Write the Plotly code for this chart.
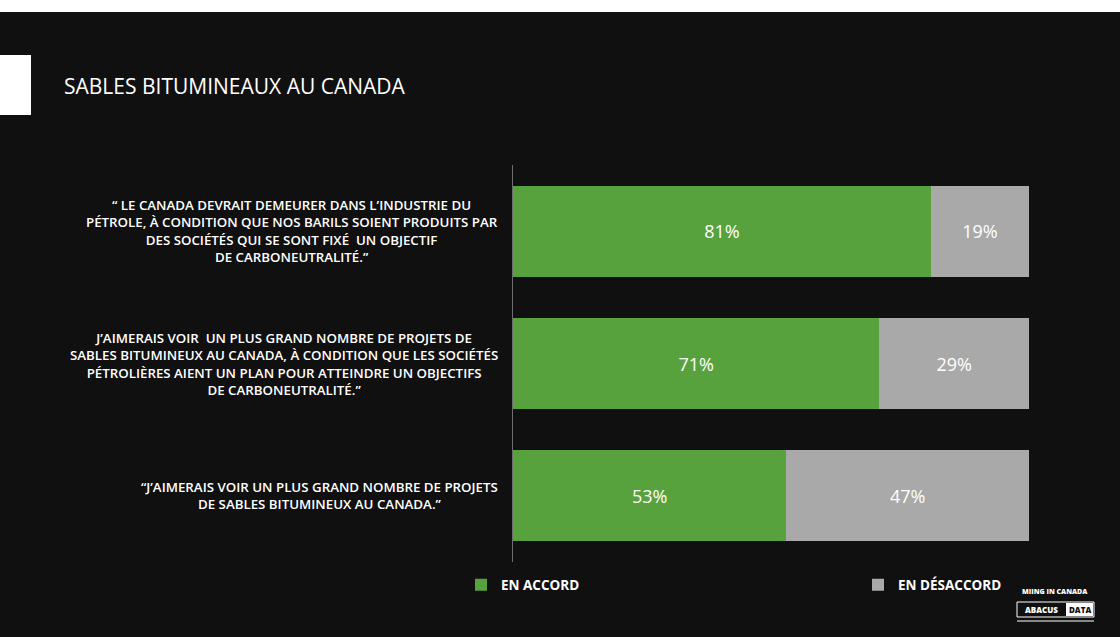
import plotly.graph_objects as go

# Statements (top to bottom) and survey results
statements = [
    "“ LE CANADA DEVRAIT DEMEURER DANS L’INDUSTRIE DU<br>PÉTROLE, À CONDITION QUE NOS BARILS SOIENT PRODUITS PAR<br>DES SOCIÉTÉS QUI SE SONT FIXÉ  UN OBJECTIF<br>DE CARBONEUTRALITÉ.”",
    "J’AIMERAIS VOIR  UN PLUS GRAND NOMBRE DE PROJETS DE<br>SABLES BITUMINEUX AU CANADA, À CONDITION QUE LES SOCIÉTÉS<br>PÉTROLIÈRES AIENT UN PLAN POUR ATTEINDRE UN OBJECTIFS<br>DE CARBONEUTRALITÉ.”",
    "“J’AIMERAIS VOIR UN PLUS GRAND NOMBRE DE PROJETS<br>DE SABLES BITUMINEUX AU CANADA.”",
]
categories = ["Q1", "Q2", "Q3"]
accord = [81, 71, 53]
desaccord = [19, 29, 47]
series_names = ["EN ACCORD", "EN DÉSACCORD"]

GREEN = "#58a23e"
GREY = "#a9a9a9"
FONT = "Open Sans"

W, H = 1120, 637
L, R, T, B = 513, 91, 165, 75


def px(x):
    return (x - L) / (W - L - R)


def py(y):
    return (H - B - y) / (H - T - B)


def note(x, y, text, size, color="white", weight=400, xanchor="center"):
    fig.add_annotation(
        x=px(x), xref="paper", xanchor=xanchor, y=py(y), yref="paper",
        yanchor="middle", text=text, showarrow=False,
        font=dict(family=FONT, size=size, color=color, weight=weight),
    )


fig = go.Figure()
fig.add_trace(go.Bar(
    y=categories, x=accord, orientation="h", name=series_names[0],
    marker=dict(color=GREEN, line=dict(width=0)),
    texttemplate="%{x}%", textposition="inside", insidetextanchor="middle",
    textfont=dict(family=FONT, size=18, color="white"),
    legendwidth=352,
))
fig.add_trace(go.Bar(
    y=categories, x=desaccord, orientation="h", name=series_names[1],
    marker=dict(color=GREY, line=dict(width=0)),
    texttemplate="%{x}%", textposition="inside", insidetextanchor="middle",
    textfont=dict(family=FONT, size=18, color="white"),
    legendwidth=110,
))

# statement labels, centred multi-line blocks left of the axis
for cat, txt in zip(categories, statements):
    fig.add_annotation(
        x=px(500), xref="paper", xanchor="right", y=cat, yref="y",
        yanchor="middle", text=txt, showarrow=False, align="center",
        font=dict(family=FONT, size=13.3, color="white", weight=600),
    )

note(62, 86, "SABLES BITUMINEAUX AU CANADA", 21, xanchor="left")

# white top strip and left tab
fig.add_shape(type="rect", xref="paper", yref="paper", x0=px(0), x1=px(W),
              y0=py(12), y1=py(0), fillcolor="white", line_width=0, layer="above")
fig.add_shape(type="rect", xref="paper", yref="paper", x0=px(0), x1=px(31),
              y0=py(115), y1=py(55), fillcolor="white", line_width=0, layer="above")

# source / logo bottom right
note(1055, 591, "MIING IN CANADA", 7, weight=800)
fig.add_shape(type="rect", xref="paper", yref="paper", x0=px(1017), x1=px(1094),
              y0=py(617), y1=py(602), line=dict(color="white", width=1),
              fillcolor="rgba(0,0,0,0)", layer="below")
fig.add_shape(type="rect", xref="paper", yref="paper", x0=px(1066), x1=px(1093),
              y0=py(616), y1=py(603), line_width=0, fillcolor="white", layer="below")
note(1041, 609.5, "ABACUS", 8, weight=800)
note(1079.5, 609.5, "DATA", 8, color="#111111", weight=800)
fig.add_shape(type="line", xref="paper", yref="paper", x0=px(1017), x1=px(1094),
              y0=py(621), y1=py(621), line=dict(color="white", width=1))

fig.update_layout(
    width=W, height=H,
    barmode="stack", bargap=0.31,
    paper_bgcolor="#101010", plot_bgcolor="rgba(0,0,0,0)",
    margin=dict(l=L, r=R, t=T, b=B),
    font=dict(family=FONT, color="white"),
    showlegend=True,
    legend=dict(
        orientation="h", x=px(461), xanchor="left", y=py(585), yanchor="middle",
        traceorder="normal",
        font=dict(family=FONT, size=13.5, color="white", weight=700),
        bgcolor="rgba(0,0,0,0)",
    ),
    xaxis=dict(range=[0, 100], visible=False, fixedrange=True),
    yaxis=dict(
        categoryorder="array", categoryarray=categories, autorange="reversed",
        showticklabels=False, ticks="", showgrid=False, zeroline=False,
        showline=True, linecolor="#6e6e6e", linewidth=1, fixedrange=True,
    ),
)

fig.write_html("out.html", config={"displayModeBar": False},
               post_script="document.body.style.margin='0';")
